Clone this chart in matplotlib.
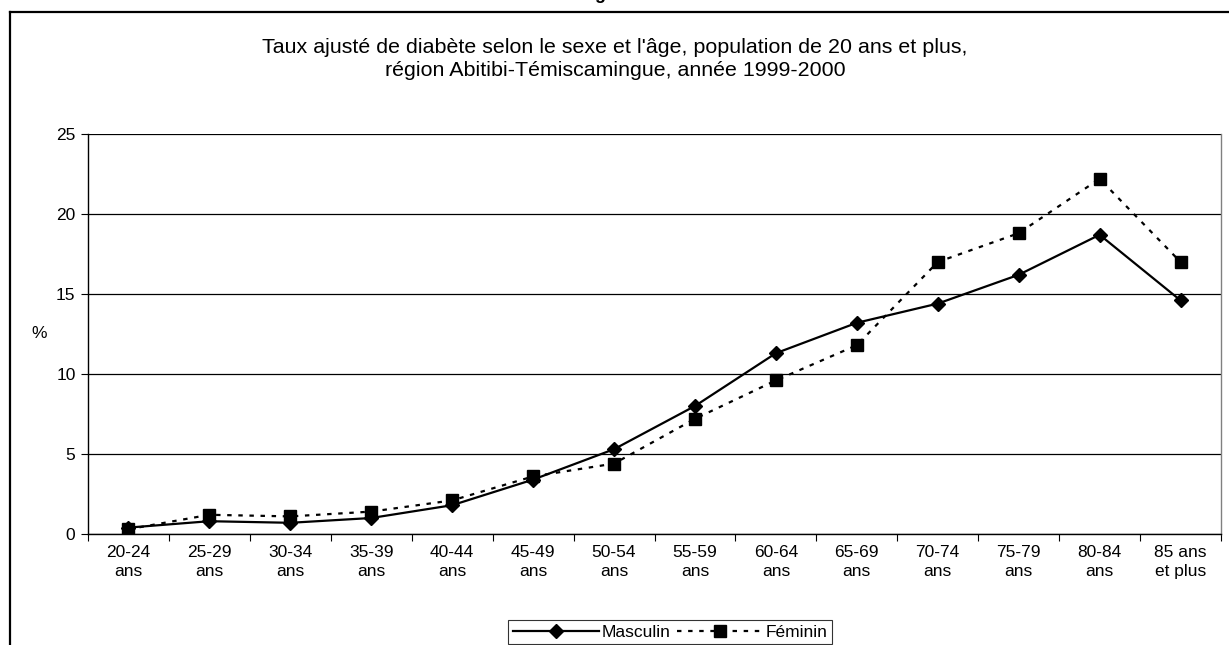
import matplotlib.pyplot as plt
from matplotlib.lines import Line2D

plt.rcParams['font.family'] = ['Liberation Sans', 'DejaVu Sans']

groupes = ['20-24\nans', '25-29\nans', '30-34\nans', '35-39\nans', '40-44\nans',
           '45-49\nans', '50-54\nans', '55-59\nans', '60-64\nans', '65-69\nans',
           '70-74\nans', '75-79\nans', '80-84\nans', '85 ans\net plus']
masculin = [0.4, 0.8, 0.7, 1.0, 1.8, 3.4, 5.3, 8.0, 11.3, 13.2, 14.4, 16.2, 18.7, 14.6]
feminin = [0.3, 1.2, 1.1, 1.4, 2.1, 3.6, 4.4, 7.2, 9.6, 11.8, 17.0, 18.8, 22.2, 17.0]

W, H = 1229, 645
fig = plt.figure(figsize=(W / 100, H / 100), dpi=100)

# cadre du graphique (coupé à droite et en bas)
fig.add_artist(Line2D([10 / W, 10 / W], [0, 1 - 12 / H], color='black', lw=1.6))
fig.add_artist(Line2D([10 / W, 1], [1 - 12 / H, 1 - 12 / H], color='black', lw=1.6))
fig.text(600 / W, 1 + 1 / H, 'g', ha='center', va='baseline', fontsize=13, fontweight='bold')

ax = fig.add_axes([88 / W, (H - 534) / H, 1133 / W, 400 / H])
x = list(range(len(groupes)))
ax.plot(x, masculin, color='black', lw=1.6, marker='D', markersize=7,
        label='Masculin')
ax.plot(x, feminin, color='black', lw=1.6, ls=(0, (2, 3)), marker='s', markersize=8.5,
        label='Féminin')

ax.set_xlim(-0.5, len(groupes) - 0.5)
ax.set_ylim(0, 25)
ax.set_yticks(range(0, 26, 5))
ax.yaxis.grid(True, color='black', lw=0.9)
ax.set_axisbelow(True)
ax.set_xticks(x)
ax.set_xticklabels(groupes, fontsize=12.5, linespacing=1.35)
ax.set_xticks([i - 0.5 for i in range(len(groupes) + 1)], minor=True)
ax.tick_params(axis='x', which='major', length=0, pad=8)
ax.tick_params(axis='x', which='minor', length=5, width=0.8, direction='out')
ax.tick_params(axis='y', length=5, width=0.8, labelsize=12.5, pad=4)
ax.spines['top'].set_visible(False)
ax.spines['left'].set_linewidth(1.0)
ax.spines['bottom'].set_linewidth(1.0)
ax.spines['right'].set_color('#808080')
ax.spines['right'].set_linewidth(1.0)

ax.set_ylabel('%', fontsize=12.5, rotation=0, labelpad=12, va='center')

fig.text(615 / W, 1 - 59 / H, "Taux ajusté de diabète selon le sexe et l'âge, population de 20 ans et plus,\n"
         "région Abitibi-Témiscamingue, année 1999-2000",
         ha='center', va='center', fontsize=15.4, linespacing=1.3)

leg = ax.legend(loc='center', bbox_to_anchor=(670 / W, 1 - 632 / H), bbox_transform=fig.transFigure,
                ncol=2, frameon=True, fancybox=False, edgecolor='black', fontsize=12.5,
                handlelength=5.0, columnspacing=0.4, handletextpad=0.1, borderpad=0.25,
                borderaxespad=0)
leg.get_frame().set_linewidth(0.8)

fig.savefig('out.png', dpi=100)
